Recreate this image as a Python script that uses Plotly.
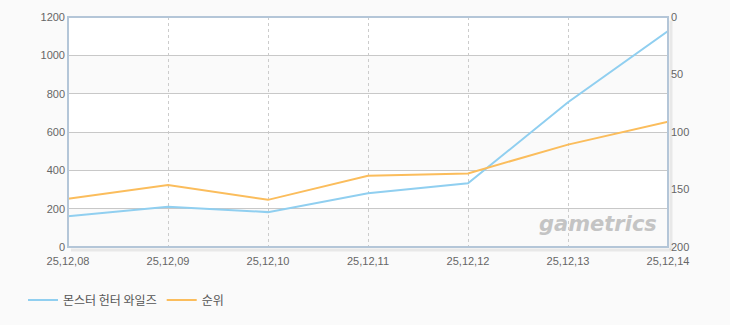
import plotly.graph_objects as go

dates = ["25,12,08", "25,12,09", "25,12,10", "25,12,11", "25,12,12", "25,12,13", "25,12,14"]
users = [161, 210, 182, 280, 332, 755, 1127]
ranks = [158, 146, 159, 138, 136, 111, 91]
left_ticks = [0, 200, 400, 600, 800, 1000, 1200]
right_ticks = [0, 50, 100, 150, 200]
series_names = ["몬스터 헌터 와일즈", "순위"]

fig = go.Figure()
fig.add_trace(go.Scatter(x=dates, y=users, name=series_names[0], mode="lines",
                         line=dict(color="#90cff0", width=2), yaxis="y"))
fig.add_trace(go.Scatter(x=dates, y=ranks, name=series_names[1], mode="lines",
                         line=dict(color="#fbbd5c", width=2), yaxis="y2"))

# alternating bands
shapes = []
for i in range(0, len(left_ticks) - 1):
    if i % 2 == 0:
        shapes.append(dict(type="rect", xref="paper", yref="y", x0=0, x1=1,
                           y0=left_ticks[i], y1=left_ticks[i + 1],
                           fillcolor="#fafafa", line=dict(width=0), layer="below"))
# shadow (right and bottom only)
shadow = dict(color="rgba(0,0,0,0.07)", width=3)
shapes.append(dict(type="line", xref="paper", yref="paper", x0=1.005, x1=1.005, y0=-0.013, y1=0.985,
                   line=shadow, layer="below"))
shapes.append(dict(type="line", xref="paper", yref="paper", x0=0.005, x1=1.005, y0=-0.013, y1=-0.013,
                   line=shadow, layer="below"))
# border
shapes.append(dict(type="rect", xref="paper", yref="paper", x0=0, x1=1, y0=0, y1=1,
                   line=dict(color="#b4c6d8", width=2), layer="above"))

tickfont = dict(family="Liberation Sans, Arial, sans-serif", size=11, color="#666666")

fig.update_layout(
    width=730, height=325,
    margin=dict(l=68, r=62, t=17, b=77),
    paper_bgcolor="#fafafa", plot_bgcolor="#ffffff",
    shapes=shapes,
    showlegend=True,
    legend=dict(orientation="h", x=-0.075, xanchor="left", y=-0.225, yanchor="middle",
                font=dict(family="Noto Sans CJK KR, sans-serif", size=12, color="#555555"),
                bgcolor="rgba(0,0,0,0)", itemwidth=30, tracegroupgap=0),
    xaxis=dict(type="category", range=[0, 6], showgrid=True, gridcolor="#cccccc", griddash="3px,3px",
               gridwidth=1, zeroline=False, showline=False, ticks="", tickfont=tickfont,
               tickangle=0, ticklabelstandoff=6),
    yaxis=dict(range=[0, 1200], tickvals=left_ticks, showgrid=True, gridcolor="#c8c8c8",
               gridwidth=1, zeroline=False, showline=False, ticks="", tickfont=tickfont,
               ticklabelstandoff=2),
    yaxis2=dict(range=[200, 0], tickvals=right_ticks, overlaying="y", side="right",
                showgrid=False, zeroline=False, showline=False, ticks="", tickfont=tickfont,
                ticklabelstandoff=2),
    annotations=[dict(text="<b><i>gametrics</i></b>", xref="paper", yref="paper",
                      x=0.985, y=0.04, xanchor="right", yanchor="bottom", showarrow=False,
                      font=dict(family="DejaVu Sans, sans-serif", size=21, color="#c4c4c4"))],
)

fig.write_html("out.html")
